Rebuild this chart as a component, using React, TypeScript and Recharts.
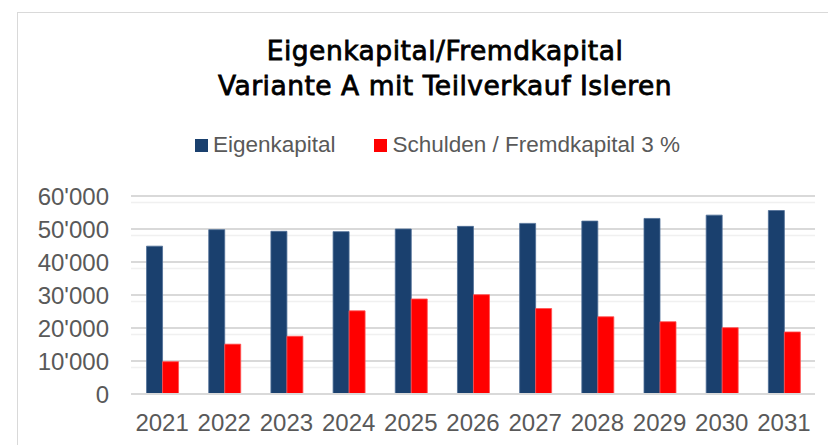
import { Bar, BarChart, CartesianGrid, Legend, XAxis, YAxis } from "recharts";

const years = ["2021", "2022", "2023", "2024", "2025", "2026", "2027", "2028", "2029", "2030", "2031"];
const eigenkapital = [44800, 49800, 49300, 49200, 50000, 50800, 51700, 52400, 53200, 54200, 55600];
const schulden = [9800, 15100, 17500, 25200, 28800, 30100, 25900, 23400, 21900, 20100, 18800];
const yTicks = [0, 10000, 20000, 30000, 40000, 50000, 60000];
const minorStep = 2000;

const seriesNames = { eigen: "Eigenkapital", schulden: "Schulden / Fremdkapital 3 %" };
const titleLines = ["Eigenkapital/Fremdkapital", "Variante A mit Teilverkauf Isleren"];

const BLUE = "#1a406e";
const RED = "#ff0000";
const GREY_TEXT = "#595959";

const data = years.map((year, i) => ({ year, eigen: eigenkapital[i], schulden: schulden[i] }));

const minorValues: number[] = [];
for (let v = minorStep; v < yTicks[yTicks.length - 1]; v += minorStep) {
  if (!yTicks.includes(v)) minorValues.push(v);
}

const formatNumber = (v: number) => String(v).replace(/\B(?=(\d{3})+(?!\d))/g, "'");

function LegendContent() {
  const items = [
    { label: seriesNames.eigen, color: BLUE },
    { label: seriesNames.schulden, color: RED },
  ];
  return (
    <div style={{ display: "flex", justifyContent: "center", gap: 39, fontFamily: "'Liberation Sans', Arial, sans-serif", fontSize: 22.5, color: GREY_TEXT }}>
      {items.map((item) => (
        <div key={item.label} style={{ display: "flex", alignItems: "center", gap: 5 }}>
          <span style={{ display: "inline-block", width: 13, height: 13, backgroundColor: item.color }} />
          <span style={{ lineHeight: "26px" }}>{item.label}</span>
        </div>
      ))}
    </div>
  );
}

export default function App() {
  return (
    <div style={{ position: "absolute", left: 0, top: 0, width: 828, height: 445, overflow: "hidden", background: "#fff" }}>
      <div style={{ position: "absolute", left: 17, top: 12, width: 900, height: 500, border: "1.5px solid #d9d9d9" }} />
      <div
        style={{
          position: "absolute",
          left: 0,
          top: 32.5,
          width: 890,
          textAlign: "center",
          fontFamily: "'DejaVu Sans', sans-serif",
          fontSize: 26.5,
          lineHeight: "35px",
          letterSpacing: 0.5,
          color: "#000",
          WebkitTextStroke: "0.8px #000",
        }}
      >
        {titleLines.map((line) => (
          <div key={line}>{line}</div>
        ))}
      </div>
      <BarChart
        width={828}
        height={445}
        data={data}
        margin={{ top: 196, right: 13, bottom: 0, left: 20 }}
        barCategoryGap="25%"
        barGap={0}
        style={{ position: "absolute", left: 0, top: 0 }}
      >
        <CartesianGrid vertical={false} horizontalValues={minorValues} stroke="#f0f0f0" strokeWidth={1.5} />
        <CartesianGrid vertical={false} stroke="#d9d9d9" strokeWidth={2} />
        <XAxis
          dataKey="year"
          height={51}
          axisLine={{ stroke: "#d9d9d9", strokeWidth: 2 }}
          tickLine={false}
          tickMargin={14}
          tick={{ fill: GREY_TEXT, fontSize: 24, fontFamily: "'Liberation Sans', Arial, sans-serif" }}
          interval={0}
        />
        <YAxis
          width={111}
          domain={[0, 60000]}
          ticks={yTicks}
          axisLine={false}
          tickLine={false}
          tickMargin={16}
          tickFormatter={formatNumber}
          tick={{ fill: GREY_TEXT, fontSize: 24, fontFamily: "'Liberation Sans', Arial, sans-serif" }}
        />
        <Legend
          layout="horizontal"
          verticalAlign="middle"
          align="center"
          wrapperStyle={{ top: 132, left: 0, width: 875 }}
          content={<LegendContent />}
        />
        <Bar dataKey="eigen" name={seriesNames.eigen} fill={BLUE} stroke="#4f6f97" strokeWidth={0.8} isAnimationActive={false} />
        <Bar dataKey="schulden" name={seriesNames.schulden} fill={RED} stroke="#ff5050" strokeWidth={0.8} isAnimationActive={false} />
      </BarChart>
    </div>
  );
}
